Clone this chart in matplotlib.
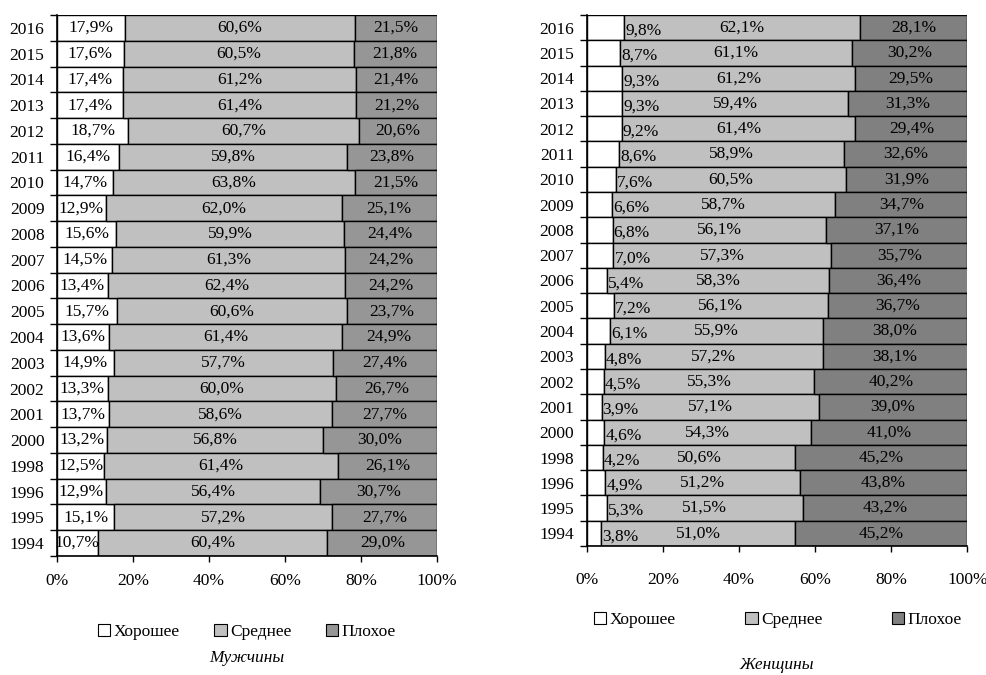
import matplotlib.pyplot as plt
from matplotlib.patches import Patch
import numpy as np

plt.rcParams['font.family'] = ['Liberation Serif', 'DejaVu Serif']
plt.rcParams['font.size'] = 12.5

years = ['2016', '2015', '2014', '2013', '2012', '2011', '2010', '2009', '2008', '2007', '2006',
         '2005', '2004', '2003', '2002', '2001', '2000', '1998', '1996', '1995', '1994']

# мужчины
m_good = [17.9, 17.6, 17.4, 17.4, 18.7, 16.4, 14.7, 12.9, 15.6, 14.5, 13.4,
          15.7, 13.6, 14.9, 13.3, 13.7, 13.2, 12.5, 12.9, 15.1, 10.7]
m_mid = [60.6, 60.5, 61.2, 61.4, 60.7, 59.8, 63.8, 62.0, 59.9, 61.3, 62.4,
         60.6, 61.4, 57.7, 60.0, 58.6, 56.8, 61.4, 56.4, 57.2, 60.4]
m_bad = [21.5, 21.8, 21.4, 21.2, 20.6, 23.8, 21.5, 25.1, 24.4, 24.2, 24.2,
         23.7, 24.9, 27.4, 26.7, 27.7, 30.0, 26.1, 30.7, 27.7, 29.0]

# женщины
f_good = [9.8, 8.7, 9.3, 9.3, 9.2, 8.6, 7.6, 6.6, 6.8, 7.0, 5.4,
          7.2, 6.1, 4.8, 4.5, 3.9, 4.6, 4.2, 4.9, 5.3, 3.8]
f_mid = [62.1, 61.1, 61.2, 59.4, 61.4, 58.9, 60.5, 58.7, 56.1, 57.3, 58.3,
         56.1, 55.9, 57.2, 55.3, 57.1, 54.3, 50.6, 51.2, 51.5, 51.0]
f_bad = [28.1, 30.2, 29.5, 31.3, 29.4, 32.6, 31.9, 34.7, 37.1, 35.7, 36.4,
         36.7, 38.0, 38.1, 40.2, 39.0, 41.0, 45.2, 43.8, 43.2, 45.2]

labels = ['Хорошее', 'Среднее', 'Плохое']


def fmt(v):
    return f'{v:.1f}%'.replace('.', ',')


def draw_panel(ax, good, mid, bad, dark, good_inside, title, tick_pad, leg_xy, leg_spacing, title_y):
    y = np.arange(len(years))
    good = np.array(good)
    mid = np.array(mid)
    bad = np.array(bad)
    colors = ['white', '#c0c0c0', dark]
    ax.barh(y, good, height=1.0, color=colors[0], edgecolor='black', linewidth=1)
    ax.barh(y, mid, left=good, height=1.0, color=colors[1], edgecolor='black', linewidth=1)
    ax.barh(y, bad, left=good + mid, height=1.0, color=colors[2], edgecolor='black', linewidth=1)

    for i in range(len(years)):
        if good_inside:
            ax.text(good[i] / 2, y[i], fmt(good[i]), ha='center', va='center')
        else:
            ax.text(good[i] + 0.3, y[i] + 0.12, fmt(good[i]), ha='left', va='center')
        ax.text(good[i] + mid[i] / 2, y[i], fmt(mid[i]), ha='center', va='center')
        ax.text(good[i] + mid[i] + bad[i] / 2, y[i], fmt(bad[i]), ha='center', va='center')

    ax.set_xlim(0, 100)
    ax.set_ylim(len(years) - 0.5, -0.5)
    ax.set_xticks(np.arange(0, 101, 20))
    ax.set_xticklabels([f'{t}%' for t in range(0, 101, 20)])
    ax.set_yticks(y)
    ax.set_yticklabels(years)
    # засечки оси категорий между строками
    ax.set_yticks(np.arange(-0.5, len(years), 1), minor=True)
    ax.tick_params(axis='y', which='major', length=0, pad=9)
    ax.tick_params(axis='y', which='minor', length=5, width=1)
    ax.tick_params(axis='x', length=4, width=1, pad=tick_pad)
    for s in ['top', 'right']:
        ax.spines[s].set_visible(False)
    ax.spines['left'].set_linewidth(1.2)
    ax.spines['bottom'].set_linewidth(1.2)

    handles = [Patch(facecolor=c, edgecolor='black', linewidth=0.8) for c in colors]
    ax.legend(handles, labels, loc='center', bbox_to_anchor=leg_xy, bbox_transform=fig.transFigure,
              ncol=3, frameon=False, handlelength=0.7, handleheight=0.7, handletextpad=0.2,
              columnspacing=leg_spacing)
    bb = ax.get_position()
    fig.text((bb.x0 + bb.x1) / 2, title_y, title, ha='center', va='center', style='italic')


fig = plt.figure(figsize=(9.86, 6.75), dpi=100)
ax1 = fig.add_axes([0.0578, 0.1763, 0.3854, 0.8015])
ax2 = fig.add_axes([0.595, 0.1911, 0.386, 0.7867])

draw_panel(ax1, m_good, m_mid, m_bad, '#969696', True, 'Мужчины', 8,
           (0.2505, 1 - 632 / 675), 2.0, 1 - 658 / 675)
draw_panel(ax2, f_good, f_mid, f_bad, '#808080', False, 'Женщины', 15,
           (0.789, 1 - 620 / 675), 4.0, 1 - 665 / 675)

fig.savefig('out.png', dpi=100)
